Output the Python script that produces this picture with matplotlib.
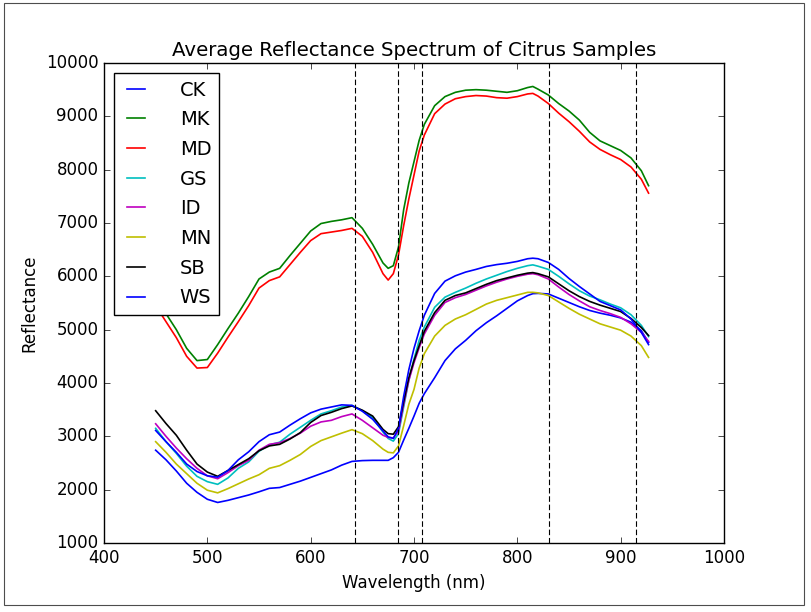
import numpy as np
import matplotlib
matplotlib.use("Agg")
import matplotlib.pyplot as plt
from matplotlib.patches import Rectangle

# dalga boyu ekseni (nm)
wl = [450, 460, 470, 480, 490, 500, 510, 520, 530, 540, 550, 560, 570, 580, 590,
      600, 610, 620, 630, 640, 650, 660, 670, 675, 680, 685, 690, 695, 700, 705,
      710, 720, 730, 740, 750, 760, 770, 780, 790, 800, 810, 815, 820, 830, 840,
      850, 860, 870, 880, 890, 900, 910, 920, 927]

CK = [2740, 2560, 2350, 2120, 1950, 1820, 1760, 1800, 1850, 1900, 1960, 2025, 2040, 2100, 2160,
      2230, 2300, 2370, 2460, 2530, 2545, 2550, 2550, 2550, 2600, 2700, 2930, 3150, 3380, 3620,
      3800, 4100, 4420, 4640, 4800, 4980, 5130, 5260, 5400, 5540, 5640, 5675, 5680, 5670, 5590,
      5510, 5430, 5360, 5310, 5270, 5220, 5140, 4980, 4760]
MK = [5600, 5300, 5000, 4650, 4420, 4440, 4720, 5020, 5310, 5620, 5950, 6080, 6150, 6390, 6620,
      6850, 6990, 7030, 7060, 7100, 6900, 6600, 6250, 6150, 6200, 6550, 7250, 7750, 8150, 8550,
      8850, 9200, 9370, 9450, 9490, 9500, 9490, 9470, 9450, 9480, 9540, 9560, 9510, 9400, 9240,
      9100, 8930, 8700, 8540, 8450, 8360, 8220, 7980, 7700]
MD = [5450, 5150, 4850, 4500, 4280, 4290, 4560, 4860, 5150, 5450, 5780, 5920, 5990, 6220, 6450,
      6670, 6800, 6830, 6860, 6900, 6750, 6450, 6050, 5930, 6050, 6400, 6950, 7450, 7900, 8350,
      8650, 9050, 9230, 9330, 9370, 9390, 9380, 9350, 9340, 9370, 9420, 9430, 9380, 9240, 9060,
      8900, 8720, 8520, 8380, 8280, 8190, 8050, 7820, 7560]
GS = [3150, 2900, 2680, 2440, 2250, 2150, 2100, 2220, 2400, 2520, 2720, 2840, 2890, 3040, 3170,
      3300, 3420, 3480, 3550, 3580, 3480, 3350, 3080, 2960, 2910, 3050, 3550, 4050, 4450, 4800,
      5050, 5420, 5610, 5700, 5780, 5870, 5950, 6020, 6090, 6150, 6200, 6215, 6190, 6130, 6000,
      5860, 5730, 5630, 5560, 5480, 5410, 5280, 5080, 4870]
ID = [3235, 3000, 2780, 2580, 2400, 2260, 2205, 2320, 2450, 2550, 2740, 2850, 2880, 2960, 3060,
      3190, 3270, 3300, 3370, 3420, 3300, 3160, 3020, 2980, 2970, 3100, 3600, 4050, 4380, 4660,
      4920, 5270, 5510, 5600, 5660, 5740, 5820, 5890, 5950, 6000, 6040, 6050, 6030, 5950, 5800,
      5660, 5540, 5430, 5360, 5300, 5230, 5110, 4950, 4780]
MN = [2900, 2700, 2480, 2300, 2120, 1990, 1940, 2020, 2110, 2200, 2280, 2400, 2450, 2550, 2660,
      2810, 2920, 2990, 3060, 3125, 3050, 2920, 2760, 2700, 2690, 2820, 3200, 3600, 3880, 4280,
      4550, 4880, 5080, 5200, 5280, 5380, 5480, 5550, 5600, 5650, 5700, 5700, 5690, 5640, 5520,
      5400, 5290, 5200, 5110, 5050, 4990, 4880, 4700, 4480]
SB = [3480, 3240, 3020, 2740, 2480, 2330, 2250, 2360, 2470, 2580, 2730, 2820, 2850, 2950, 3070,
      3260, 3390, 3450, 3520, 3570, 3490, 3380, 3130, 3050, 3040, 3180, 3650, 4100, 4420, 4700,
      4970, 5320, 5550, 5640, 5690, 5770, 5850, 5920, 5970, 6020, 6060, 6070, 6050, 5990, 5860,
      5730, 5620, 5530, 5460, 5400, 5340, 5210, 5040, 4890]
WS = [3110, 2900, 2700, 2480, 2340, 2260, 2235, 2360, 2560, 2710, 2900, 3030, 3080, 3210, 3330,
      3440, 3510, 3550, 3590, 3580, 3470, 3320, 3100, 2990, 2960, 3150, 3750, 4250, 4650, 4980,
      5270, 5680, 5910, 6010, 6080, 6130, 6185, 6220, 6245, 6280, 6330, 6340, 6330, 6260, 6130,
      5960, 5810, 5670, 5530, 5450, 5370, 5200, 4950, 4720]

names = ["CK", "MK", "MD", "GS", "ID", "MN", "SB", "WS"]
series = [CK, MK, MD, GS, ID, MN, SB, WS]

# secilen karakteristik dalga boylari
bands = [643, 685, 708, 831, 915]

plt.style.use("classic")
fig = plt.figure(figsize=(8.12, 6.12), dpi=100, facecolor="white")
ax = fig.add_axes([104 / 812, 1 - 543 / 612, 620 / 812, 480 / 612])

for name, vals in zip(names, series):
    ax.plot(wl, vals, label=name, lw=1.2)

for b in bands:
    ax.axvline(b, color="k", ls=(0, (4, 2)), lw=0.8)

ax.set_xlim(400, 1000)
ax.set_ylim(1000, 10000)
ax.set_xlabel("Wavelength (nm)")
ax.set_ylabel("Reflectance")
ax.set_title("Average Reflectance Spectrum of Citrus Samples", fontsize=14.2)
ax.legend(loc="upper left", fontsize=14, handlelength=1.5, handletextpad=1.5,
          borderaxespad=0.5, labelspacing=0.55)

# resmin etrafindaki ince cerceve
fig.patches.append(Rectangle((4 / 812, 1 - 605 / 612), 800 / 812, 602 / 612,
                             transform=fig.transFigure, fill=False,
                             edgecolor="0.3", lw=0.8))

fig.savefig("out.png", dpi=100, facecolor="white")
